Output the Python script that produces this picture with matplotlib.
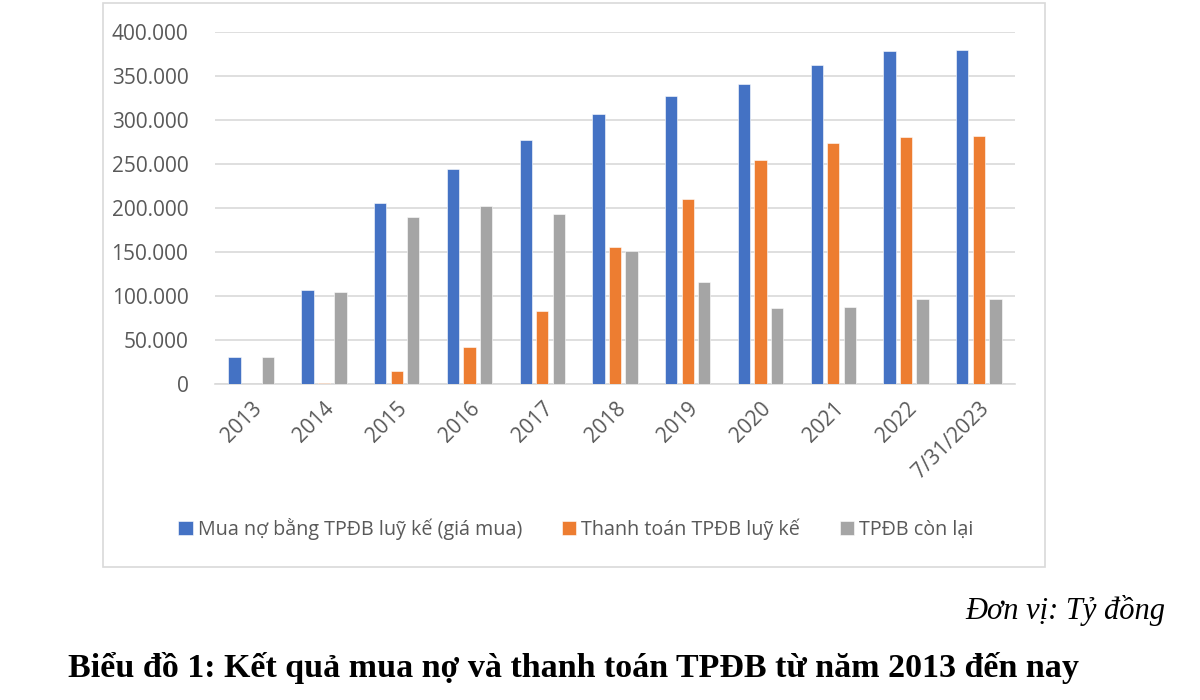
import numpy as np
import matplotlib.pyplot as plt
from matplotlib.patches import Rectangle
from matplotlib.ticker import FuncFormatter

categories = ['2013', '2014', '2015', '2016', '2017', '2018', '2019',
              '2020', '2021', '2022', '7/31/2023']
muaNo = [30500, 107000, 206000, 245000, 277000, 307000, 327000,
         341500, 362500, 378500, 379500]
thanhToan = [0, 2000, 15000, 42500, 83000, 155500, 210000,
             254500, 274000, 281000, 282500]
conLai = [30500, 105000, 190500, 203000, 194000, 152000, 116000,
          87000, 88000, 97000, 97000]
seriesNames = ['Mua nợ bằng TPĐB luỹ kế (giá mua)', 'Thanh toán TPĐB luỹ kế',
               'TPĐB còn lại']
seriesColors = ['#4472C4', '#ED7D31', '#A5A5A5']

plt.rcParams['font.family'] = ['Open Sans', 'DejaVu Sans']
textColor = '#595959'

fig = plt.figure(figsize=(12, 7), dpi=100)
ax = fig.add_axes([0.179, 0.451, 0.667, 0.503])

x = np.arange(len(categories))
barWidth = 0.17
step = 0.227
for i, (vals, name, color) in enumerate(zip([muaNo, thanhToan, conLai], seriesNames, seriesColors)):
    ax.bar(x + (i - 1) * step, vals, width=barWidth, color=color, label=name,
           edgecolor='white', linewidth=0.4, zorder=3)

ax.set_xlim(-0.5, len(categories) - 0.5)
ax.set_ylim(0, 400000)
ax.set_yticks(np.arange(0, 400001, 50000))
ax.yaxis.set_major_formatter(FuncFormatter(lambda v, p: f'{int(v):,}'.replace(',', '.')))
ax.grid(axis='y', color='#D9D9D9', linewidth=1.2, zorder=0)
for side in ['top', 'right', 'left']:
    ax.spines[side].set_visible(False)
ax.spines['bottom'].set_color('#D9D9D9')
ax.spines['bottom'].set_linewidth(1.2)
ax.tick_params(axis='both', length=0, colors=textColor, labelsize=15)
ax.tick_params(axis='y', pad=19)
ax.set_xticks(x)
ax.set_xticklabels(categories, rotation=45, ha='right', rotation_mode='anchor')
ax.tick_params(axis='x', pad=10)

ax.legend(loc='center', bbox_to_anchor=(0.451, -0.41), ncol=3, frameon=False,
          fontsize=14.2, handlelength=0.75, handleheight=0.75, handletextpad=0.25,
          columnspacing=2.0, labelcolor=textColor)

# khung bao quanh biểu đồ
fig.patches.append(Rectangle((103 / 1200, 1 - 567 / 700), 942 / 1200, 564 / 700,
                             transform=fig.transFigure, fill=False,
                             edgecolor='#D9D9D9', linewidth=1.2))

fig.text(1165 / 1200, 1 - 610 / 700, 'Đơn vị: Tỷ đồng', ha='right', va='center',
         family='Liberation Serif', style='italic', fontsize=22, color='black')
fig.text(68 / 1200, 1 - 668 / 700, 'Biểu đồ 1: Kết quả mua nợ và thanh toán TPĐB từ năm 2013 đến nay',
         ha='left', va='center', family='Liberation Serif', weight='bold',
         fontsize=24.5, color='black')

fig.savefig('out.png', dpi=100)
